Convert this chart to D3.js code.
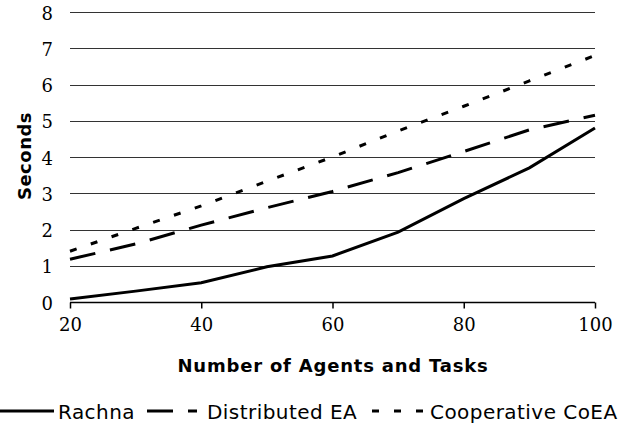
<!DOCTYPE html>
<html><head><meta charset="utf-8">
<script src="https://cdn.jsdelivr.net/npm/d3@7/dist/d3.min.js"></script>
<style>
html,body{margin:0;padding:0;background:#fff;overflow:hidden;}
svg{display:block;font-family:"DejaVu Sans",Verdana,sans-serif;}
</style></head>
<body><svg id="c" width="636" height="423"></svg>
<script>
const xValues = [20, 30, 40, 50, 60, 70, 80, 90, 100];
const rachna = [0.08, 0.3, 0.53, 0.97, 1.27, 1.93, 2.85, 3.7, 4.8];
const distributedEA = [1.18, 1.6, 2.12, 2.6, 3.05, 3.57, 4.15, 4.75, 5.15];
const cooperativeCoEA = [1.4, 2.03, 2.65, 3.33, 4.0, 4.72, 5.4, 6.1, 6.8];
const seriesNames = ["Rachna", "Distributed EA", "Cooperative CoEA"];
const xTicks = [20, 40, 60, 80, 100];
const yTicks = [0, 1, 2, 3, 4, 5, 6, 7, 8];
const xTitle = "Number of Agents and Tasks";
const yTitle = "Seconds";

const series = [
  {name: seriesNames[0], values: rachna, dash: null},
  {name: seriesNames[1], values: distributedEA, dash: "26,15"},
  {name: seriesNames[2], values: cooperativeCoEA, dash: "7,15"}
];

const svg = d3.select("#c");
const L = 70, R = 595, T = 12, B = 302;
const x = d3.scaleLinear().domain([20, 100]).range([L, R]);
const y = d3.scaleLinear().domain([0, 8]).range([B, T]);

// gridlines
svg.append("g").selectAll("line").data(yTicks.filter(d => d > 0)).join("line")
  .attr("x1", L).attr("x2", R)
  .attr("y1", d => Math.round(y(d)) + 0.5).attr("y2", d => Math.round(y(d)) + 0.5)
  .attr("stroke", "#333").attr("stroke-width", 1);

// y axis labels
const yAxis = d3.axisLeft(y).tickValues(yTicks).tickSize(0).tickPadding(0).tickFormat(d3.format("d"));
const gy = svg.append("g").attr("transform", `translate(53,0)`).call(yAxis);
gy.select(".domain").remove();
gy.selectAll("text").attr("font-size", 18).attr("font-family", "DejaVu Serif").attr("fill", "#000").attr("dy", "0.4em");

// x axis
const xAxis = d3.axisBottom(x).tickValues(xTicks).tickSize(6).tickPadding(10).tickFormat(d3.format("d"));
const gx = svg.append("g").attr("transform", `translate(0,${B + 0.5})`).call(xAxis);
gx.select(".domain").attr("d", `M${L},0H${R}`).attr("stroke", "#000").attr("stroke-width", 1.5);
gx.selectAll(".tick line").attr("stroke", "#000").attr("stroke-width", 1.5);
gx.selectAll("text").attr("font-size", 18).attr("font-family", "DejaVu Serif").attr("fill", "#000");

// titles
svg.append("text").attr("x", 333).attr("y", 372).attr("text-anchor", "middle")
  .attr("font-weight", "bold").attr("font-size", 18).attr("letter-spacing", 0.8).text(xTitle);
svg.append("text").attr("transform", "translate(31,156) rotate(-90)").attr("text-anchor", "middle")
  .attr("font-weight", "bold").attr("font-size", 18).attr("letter-spacing", 0.5).text(yTitle);

// lines
const line = d3.line().x((d, i) => x(xValues[i])).y(d => y(d));
svg.append("g").selectAll("path").data(series).join("path")
  .attr("d", d => line(d.values))
  .attr("fill", "none").attr("stroke", "#000").attr("stroke-width", 3)
  .attr("stroke-dasharray", d => d.dash);

// legend
const legX = [[0, 54, 58], [147, 197, 207], [372, 427, 430]];
const leg = svg.append("g");
series.forEach((s, i) => {
  leg.append("line").attr("x1", legX[i][0]).attr("x2", legX[i][1]).attr("y1", 411).attr("y2", 411)
    .attr("stroke", "#000").attr("stroke-width", 3).attr("stroke-dasharray", s.dash);
  leg.append("text").attr("x", legX[i][2]).attr("y", 419).attr("font-size", 20)
    .attr("letter-spacing", 0.45).text(s.name);
});
</script></body></html>
